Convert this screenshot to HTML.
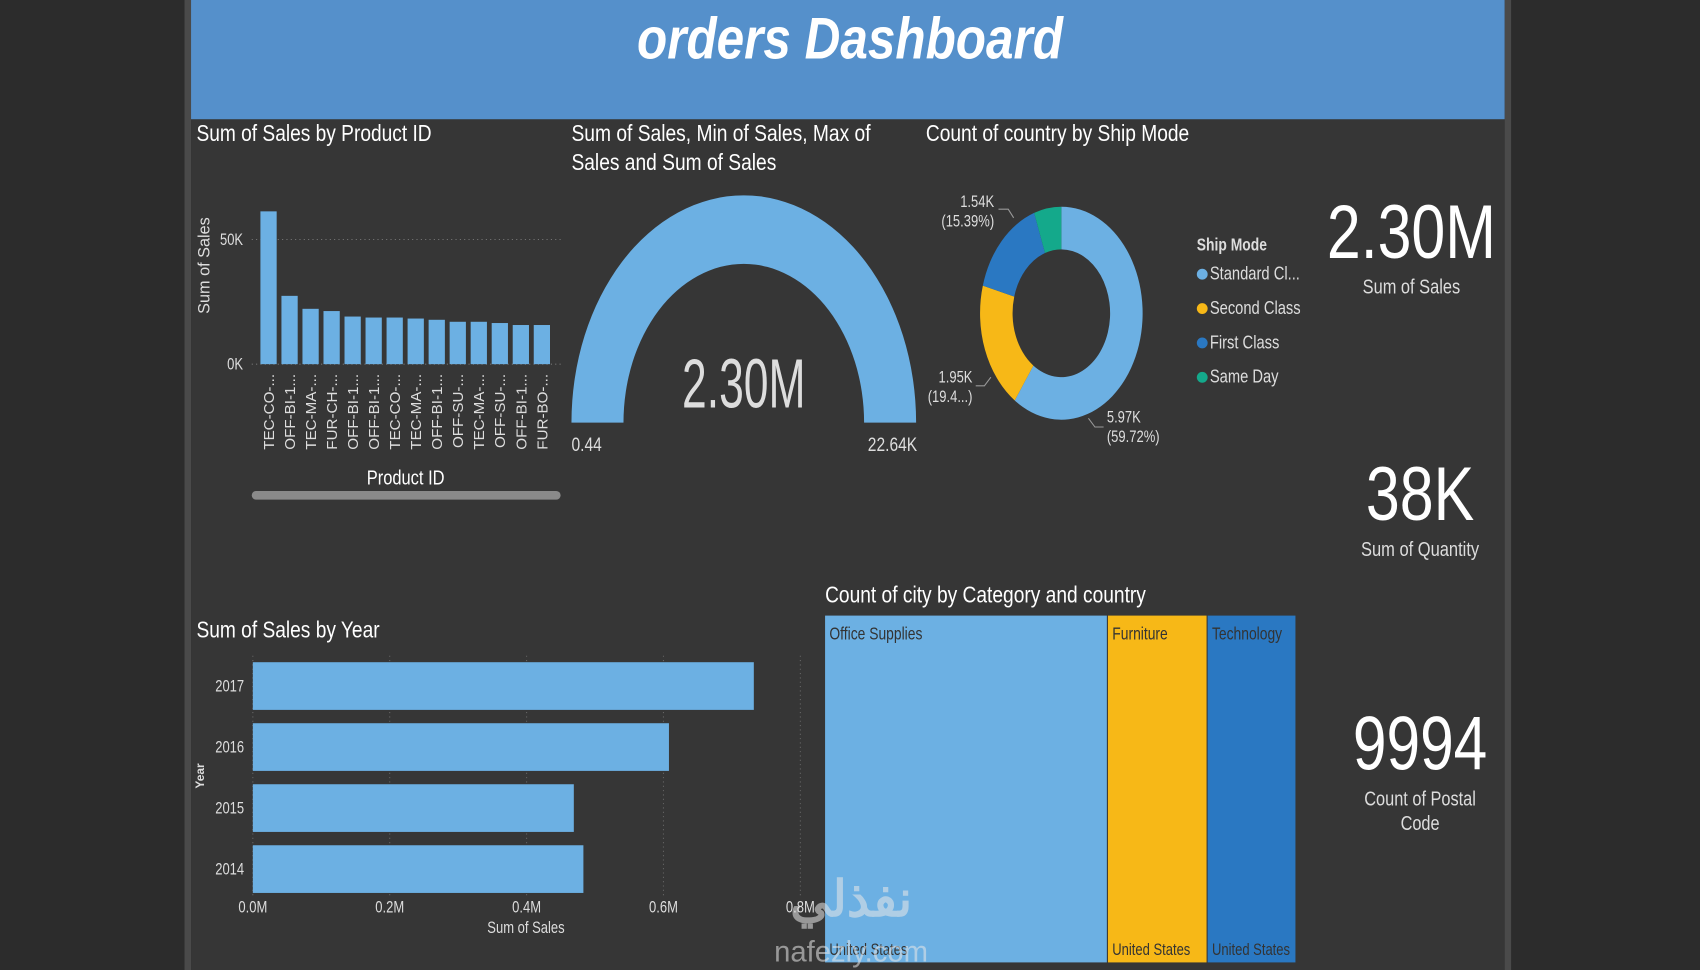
<!DOCTYPE html>
<html><head><meta charset="utf-8"><style>
html,body{margin:0;padding:0;background:#2c2c2c;width:1700px;height:970px;overflow:hidden}
svg{display:block}
text{font-family:"Liberation Sans",sans-serif}
</style></head><body>
<svg id="s" width="1700" height="970" viewBox="0 0 1568 895" xmlns="http://www.w3.org/2000/svg">
<rect x="0" y="0" width="1568" height="895" fill="#2c2c2c"/>
<rect x="170" y="0" width="6" height="895" fill="#4a4a4a"/>
<rect x="1388" y="0" width="6" height="895" fill="#4a4a4a"/>
<rect x="176" y="0" width="1212" height="895" fill="#363636"/>
<rect x="176" y="0" width="1212" height="110" fill="#5590cb"/>
<text x="784" y="54" text-anchor="middle" font-size="54" font-weight="bold" font-style="italic" fill="#fff" textLength="393" lengthAdjust="spacingAndGlyphs">orders Dashboard</text>

<text x="181" y="130" font-size="21" fill="#fff" textLength="217" lengthAdjust="spacingAndGlyphs">Sum of Sales by Product ID</text>
<text x="527" y="130" font-size="21" fill="#fff" textLength="276" lengthAdjust="spacingAndGlyphs">Sum of Sales, Min of Sales, Max of</text>
<text x="527" y="157" font-size="21" fill="#fff" textLength="189" lengthAdjust="spacingAndGlyphs">Sales and Sum of Sales</text>
<text x="854" y="130" font-size="21" fill="#fff" textLength="243" lengthAdjust="spacingAndGlyphs">Count of country by Ship Mode</text>
<text x="181" y="588" font-size="21" fill="#fff" textLength="169" lengthAdjust="spacingAndGlyphs">Sum of Sales by Year</text>
<text x="761" y="556" font-size="21" fill="#fff" textLength="296" lengthAdjust="spacingAndGlyphs">Count of city by Category and country</text>

<g id="prod"></g><g id="gauge"></g><g id="donut"></g><g id="year"></g><g id="tree"></g>

<g>
<text x="1302" y="238" text-anchor="middle" font-size="70" fill="#fff" textLength="156" lengthAdjust="spacingAndGlyphs">2.30M</text>
<text x="1302" y="271" text-anchor="middle" font-size="19" fill="#ddd" textLength="90" lengthAdjust="spacingAndGlyphs">Sum of Sales</text></g>
<g>
<text x="1310" y="480" text-anchor="middle" font-size="70" fill="#fff" textLength="100" lengthAdjust="spacingAndGlyphs">38K</text>
<text x="1310" y="513" text-anchor="middle" font-size="19" fill="#ddd" textLength="109" lengthAdjust="spacingAndGlyphs">Sum of Quantity</text></g>
<g>
<text x="1310" y="710" text-anchor="middle" font-size="70" fill="#fff" textLength="124" lengthAdjust="spacingAndGlyphs">9994</text>
<text x="1310" y="743" text-anchor="middle" font-size="19" fill="#ddd" textLength="103" lengthAdjust="spacingAndGlyphs">Count of Postal</text>
<text x="1310" y="766" text-anchor="middle" font-size="19" fill="#ddd" textLength="36" lengthAdjust="spacingAndGlyphs">Code</text></g>

<text x="785" y="845" text-anchor="middle" font-size="46" font-weight="bold" fill="#e8e8e8" opacity="0.55" class="nc" font-family="'Liberation Sans','Noto Sans CJK SC',sans-serif">نفذلي</text>
<text x="785" y="887" text-anchor="middle" font-size="27" fill="#e8e8e8" opacity="0.55" class="nc">nafezly.com</text>
</svg>
<script>
const NS="http://www.w3.org/2000/svg";
function mk(p,tag,a,txt){const e=document.createElementNS(NS,tag);for(const k in a)e.setAttribute(k,a[k]);if(txt!=null)e.textContent=txt;p.appendChild(e);return e;}
const BLUE="#6cb0e3",YEL="#f7b817",DBLUE="#2a78c2",TEAL="#14a98b";

// Product chart data
const productIds=["TEC-CO-...","OFF-BI-1...","TEC-MA-...","FUR-CH-...","OFF-BI-1...","OFF-BI-1...","TEC-CO-...","TEC-MA-...","OFF-BI-1...","OFF-SU-...","TEC-MA-...","OFF-SU-...","OFF-BI-1...","FUR-BO-..."];
const productSales=[61.3,27.4,22.2,21.3,19.1,18.7,18.7,18.3,17.8,17.0,17.0,16.5,15.7,15.7];
const productTicks=[0,50];
// Donut data
const shipModes=["Standard Cl...","Second Class","First Class","Same Day"];
const shipCounts=[5968,1945,1538,543];
// Year data
const years=["2017","2016","2015","2014"];
const yearSales=[0.732,0.608,0.469,0.483];
const yearTicks=[0,0.2,0.4,0.6,0.8];
// Treemap data
const categories=["Office Supplies","Furniture","Technology"];
const categoryCounts=[261,92,82];
// Gauge data
const gaugeMin=0.44, gaugeMax=22640, gaugeValue="2.30M";

// Product chart
(function(){
const g=document.getElementById('prod');
const y0=336,y50=221; const ys=v=>y0-(v/50)*(y0-y50);
const x0=240,step=19.4,bw=15;
productTicks.forEach(t=>{
 const l=mk(g,'line',{x1:232,x2:517,y1:ys(t),y2:ys(t),stroke:'#777','stroke-dasharray':'1 3'});
 
 
 const tx=mk(g,'text',{x:224,y:ys(t)+5,'text-anchor':'end','font-size':15,fill:'#ddd'},t+'K');
 
 
});
productSales.forEach((v,i)=>{
 const x=x0+i*step;
 const r=mk(g,'rect',{x:x,y:ys(v),width:bw,height:y0-ys(v),fill:BLUE});
 
 
 const t=mk(g,'text',{x:0,y:0,'text-anchor':'end','font-size':14,fill:'#ddd',class:'nc',transform:`translate(${x+bw/2+5},345) rotate(-90)`},productIds[i]);
 
 
});
const at=mk(g,'text',{x:0,y:0,'text-anchor':'middle','font-size':15,fill:'#ddd',class:'nc',transform:'translate(193,245) rotate(-90)'},'Sum of Sales');


const xt=mk(g,'text',{x:374,y:447,'text-anchor':'middle','font-size':19,fill:'#fff'},'Product ID');


const sb=mk(g,'rect',{x:232,y:453,width:285,height:8,rx:4,fill:'#8a8a8a'});


})();

// Gauge
(function(){
const g=document.getElementById('gauge');
const cx=686,cy=390,R=159,r=111,sy=1.32;
const d=`M${cx-R},${cy} A${R},${R*sy} 0 0 1 ${cx+R},${cy} L${cx+r},${cy} A${r},${r*sy} 0 0 0 ${cx-r},${cy} Z`;
const p=mk(g,'path',{d:d,fill:BLUE});


const v=mk(g,'text',{x:cx,y:376,'text-anchor':'middle','font-size':64,fill:'#ddd',textLength:114,lengthAdjust:'spacingAndGlyphs'},gaugeValue);


const mn=mk(g,'text',{x:527,y:416,'font-size':18,fill:'#ddd'},String(gaugeMin));


const mx=mk(g,'text',{x:846,y:416,'text-anchor':'end','font-size':18,fill:'#ddd'},(gaugeMax/1000).toFixed(2)+'K');


})();

// Donut
(function(){
const g=document.getElementById('donut');
const cx=979,cy=289,R=75,r=45,sy=1.31; const cols=[BLUE,YEL,DBLUE,TEAL];
const tot=shipCounts.reduce((a,b)=>a+b,0); let a=0;
const pt=(ang,rad)=>[cx+rad*Math.sin(ang),cy-rad*sy*Math.cos(ang)];
shipCounts.forEach((v,i)=>{
 const a2=a+v/tot*2*Math.PI; const lg=(a2-a)>Math.PI?1:0;
 const [x1,y1]=pt(a,R),[x2,y2]=pt(a2,R),[x3,y3]=pt(a2,r),[x4,y4]=pt(a,r);
 const p=mk(g,'path',{d:`M${x1},${y1} A${R},${R*sy} 0 ${lg} 1 ${x2},${y2} L${x3},${y3} A${r},${r*sy} 0 ${lg} 0 ${x4},${y4} Z`,fill:cols[i]});
 
 
 a=a2;
});
const K=v=>(v/1000).toFixed(2)+'K', P=v=>'('+(v/tot*100).toFixed(2)+'%)';
const labels=[[1021,390,'start',K(shipCounts[0]),P(shipCounts[0])],
 [897,353,'end',K(shipCounts[1]),'(19.4...)'],
 [917,191,'end',K(shipCounts[2]),P(shipCounts[2])]];
labels.forEach(l=>{
 const t=mk(g,'text',{x:l[0],y:l[1],'text-anchor':l[2],'font-size':15,fill:'#ddd'},l[3]);
 
 
 const t2=mk(g,'text',{x:l[0],y:l[1]+18,'text-anchor':l[2],'font-size':15,fill:'#ddd'},l[4]);
 
 
});
mk(g,'polyline',{points:'1004,386 1010,394 1018,394',fill:'none',stroke:'#999'});
mk(g,'polyline',{points:'900,356 908,356 914,348',fill:'none',stroke:'#999'});
mk(g,'polyline',{points:'921,193 930,193 935,201',fill:'none',stroke:'#999'});
const lt=mk(g,'text',{x:1104,y:231,'font-size':16,'font-weight':'bold',fill:'#ddd'},'Ship Mode');


shipModes.forEach((m,i)=>{
 const y=252+i*31.7;
 const c=mk(g,'circle',{cx:1109,cy:y+1,r:5,fill:cols[i]});
 
 
 const t=mk(g,'text',{x:1116,y:y+6,'font-size':17,fill:'#ddd'},m);
 
 
});
})();

// Year chart
(function(){
const g=document.getElementById('year');
const xs=v=>233+v*631.5; const yTop=611,step=56.3,bh=44;
yearTicks.forEach(t=>{
 const l=mk(g,'line',{x1:xs(t),x2:xs(t),y1:605,y2:828,stroke:'#666','stroke-dasharray':'1 3'});
 
 
 const tx=mk(g,'text',{x:xs(t),y:842,'text-anchor':'middle','font-size':15,fill:'#ddd'},t.toFixed(1)+'M');
 
 
});
yearSales.forEach((v,i)=>{
 const y=yTop+i*step;
 const r=mk(g,'rect',{x:233,y:y,width:xs(v)-233,height:bh,fill:BLUE});
 
 
 const t=mk(g,'text',{x:225,y:y+bh/2+5,'text-anchor':'end','font-size':15,fill:'#ddd'},years[i]);
 
 
});
const yt=mk(g,'text',{x:0,y:0,'text-anchor':'middle','font-size':11,'font-weight':'bold',fill:'#ddd',class:'nc',transform:'translate(188,716) rotate(-90)'},'Year');


const xt=mk(g,'text',{x:485,y:861,'text-anchor':'middle','font-size':15,fill:'#ddd'},'Sum of Sales');


})();

// Treemap
(function(){
const g=document.getElementById('tree');
const X=761,Y=568,W=435,H=320; const cols=[BLUE,YEL,DBLUE];
const tot=categoryCounts.reduce((a,b)=>a+b,0); let x=X;
categoryCounts.forEach((v,i)=>{
 const w=v/tot*W;
 const r=mk(g,'rect',{x:x,y:Y,width:w-1,height:H,fill:cols[i]});
 
 
 const t=mk(g,'text',{x:x+4,y:Y+22,'font-size':16,fill:'#333'},categories[i]);
 
 
 const t2=mk(g,'text',{x:x+4,y:Y+H-7,'font-size':15,fill:'#333'},'United States');
 
 
 x+=w;
});
})();

// condense non-fixed texts to mimic narrow font
document.querySelectorAll('#s text').forEach(t=>{
 if(t.hasAttribute('textLength')||t.classList.contains('nc'))return;
 const w=t.getComputedTextLength();
 t.setAttribute('textLength',(w*0.8).toFixed(1));
 t.setAttribute('lengthAdjust','spacingAndGlyphs');
});
</script>
</body></html>
